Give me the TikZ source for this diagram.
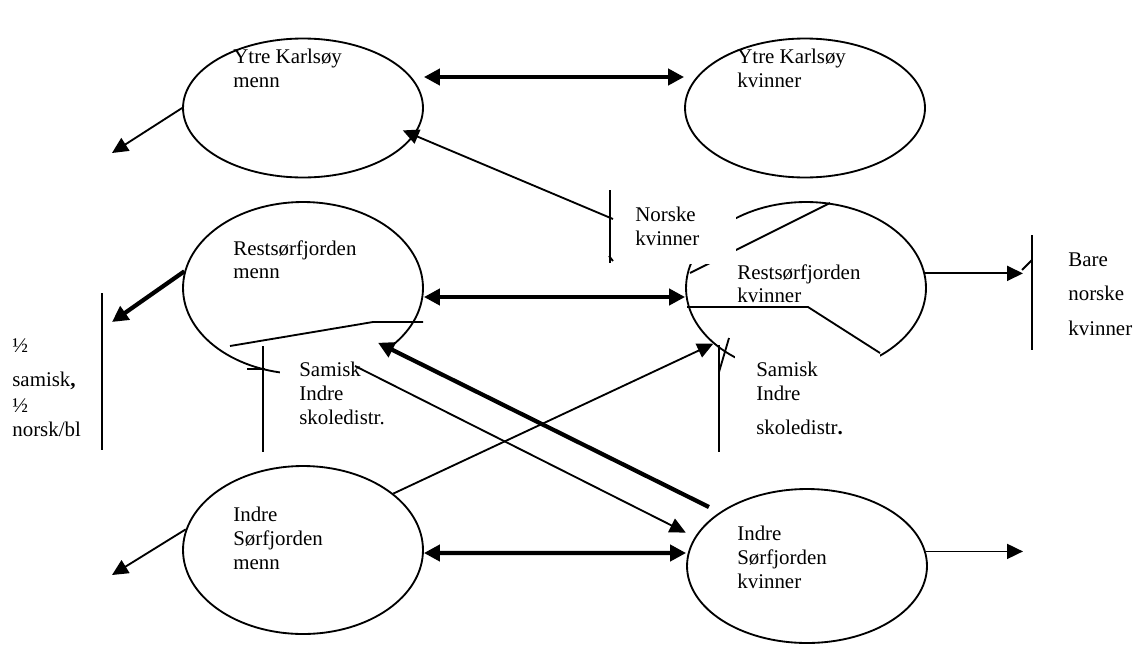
\documentclass[tikz,border=0pt]{standalone}
\usepackage{fontspec}
\setmainfont{Liberation Serif}
\usetikzlibrary{shapes.geometric, arrows.meta}

\begin{document}
\begin{tikzpicture}[x=0.02cm, y=-0.02cm,
    oval/.style={ellipse, draw, line width=1.05pt, minimum width=4.8cm, inner sep=0pt},
    lbl/.style={anchor=north west, inner sep=0pt, align=left, font=\fontsize{11.9}{13.6}\selectfont},
    mask/.style={fill=white, draw=none},
    rule/.style={line width=1.05pt},
    thinarrow/.style={-{Triangle[length=0.32cm, width=0.3cm]}, line width=1.05pt},
    thickarrow/.style={-{Triangle[length=0.32cm, width=0.32cm]}, line width=2.4pt},
    twoway/.style={{Triangle[length=0.32cm, width=0.32cm]}-{Triangle[length=0.32cm, width=0.32cm]}, line width=2.4pt}
]
\useasboundingbox (0,0) rectangle (1135,646);

% Ellipses
\node[oval, minimum height=2.78cm] (ykm) at (303,108) {};
\node[oval, minimum height=2.78cm] (ykk) at (805,108) {};
\node[oval, minimum height=3.44cm] (rsm) at (303,288) {};
\node[oval, minimum height=3.44cm] (rsk) at (806,288) {};
\node[oval, minimum height=3.36cm] (ism) at (303,550) {};
\node[oval, minimum height=3.08cm] (isk) at (807,566) {};

% Loose frame line behind the text boxes
\draw[rule] (690,273) -- (830,203);

% Text boxes cover parts of the ellipses
\fill[mask] (612,190) rectangle (736,264);
\fill[mask] (280,330) rectangle (385,460);
\fill[mask] (735,352) rectangle (880,460);

% Frame lines of the text boxes
\draw[rule] (610,190) -- (610,263);
\draw[rule] (609,256) -- (613,261);
\draw[rule] (687,307) -- (808,307) -- (880,353);
\draw[rule] (719,345) -- (719,452);
\draw[rule] (729,338) -- (719,372);
\draw[rule] (230,346) -- (373,322) -- (423,322);
\draw[rule] (263,346) -- (263,452);
\draw[rule] (247,369) -- (265,369);
\draw[rule] (102,293) -- (102,450);
\draw[rule] (1032,235) -- (1032,350);
\draw[rule] (1022,270) -- (1032,260);

% Free ends
\coordinate (ykmout) at (112,153);
\coordinate (rsmout) at (112,322);
\coordinate (ismout) at (112,575);
\coordinate (rskout) at (1023,273);
\coordinate (iskout) at (1023,552);
\coordinate (nkfoot) at (613,219);
\coordinate (samfoot) at (355,366);

% Arrows between men and women
\draw[twoway] ([yshift=0.62cm]ykm.east) -- ([yshift=0.62cm]ykk.west);
\draw[twoway] ([yshift=-0.18cm]rsm.east) -- ([yshift=-0.18cm]rsk.west);
\draw[twoway] ([yshift=-0.06cm]ism.east) -- ([yshift=0.26cm]isk.west);

% Arrows out of the picture
\draw[thinarrow] (ykm.west) -- (ykmout);
\draw[thickarrow] (rsm.172) -- (rsmout);
\draw[thinarrow] (ism.170) -- (ismout);
\draw[thinarrow] (rsk.7) -- (rsk.7 -| rskout);
\draw[thinarrow] (isk.7) -- (isk.7 -| iskout);

% Cross arrows
\draw[thinarrow] (nkfoot) -- ([shift={(-0.2cm,0.14cm)}]ykm.-15);
\draw[thinarrow] (samfoot) -- ([xshift=-0.24cm]isk.163);
\draw[thinarrow] (ism.32) -- (rsk.211);
\draw[thickarrow] ([shift={(-0.16cm,0.14cm)}]isk.150) -- ([shift={(-0.2cm,0.14cm)}]rsm.-36);

% Labels
\node[lbl] (ykmtxt) at (233,49) {Ytre Karlsøy\\menn};
\node[lbl] (ykktxt) at (737,49) {Ytre Karlsøy\\kvinner};
\node[lbl] (rsmtxt) at (233,240) {Restsørfjorden\\menn};
\node[lbl] (rsktxt) at (737,264) {Restsørfjorden\\kvinner};
\node[lbl] (ismtxt) at (233,507) {Indre\\Sørfjorden\\menn};
\node[lbl] (isktxt) at (737,526) {Indre\\Sørfjorden\\kvinner};
\node[lbl] (nktxt) at (635,207) {Norske\\kvinner};
\node[lbl] (samltxt) at (299,362) {Samisk\\Indre\\skoledistr.};
\node[lbl] (samrtxt) at (756,362) {Samisk\\Indre\\[5.7pt]skoledistr{\large\bfseries .}};
\node[lbl] (baretxt) at (1068,252) {Bare\\[6.2pt]norske\\[6.2pt]kvinner};
\node[lbl] (halvtxt) at (12,338) {½\\[6.2pt]samisk{\large\bfseries ,}\\[1.1pt]½\\norsk/bl};

\end{tikzpicture}
\end{document}
